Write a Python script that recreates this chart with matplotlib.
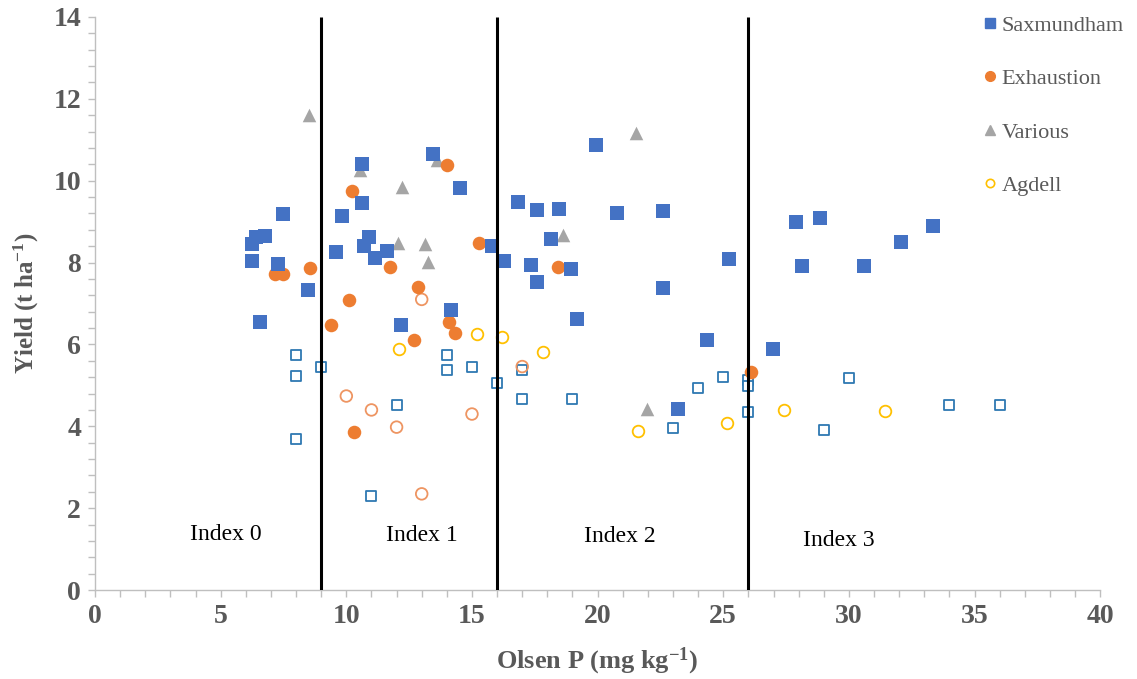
import matplotlib
matplotlib.use("Agg")
import matplotlib.pyplot as plt
from matplotlib.ticker import MultipleLocator
from matplotlib.lines import Line2D

plt.rcParams['font.family'] = ['Liberation Serif', 'DejaVu Serif']
plt.rcParams['mathtext.default'] = 'regular'

# Saxmundham (filled squares)
sax_x = [6.25, 6.4, 6.77, 6.25, 7.48, 7.28, 6.57, 8.48, 9.59, 9.83, 10.63, 10.63, 10.7, 10.9,
         11.15, 11.62, 12.18, 13.45, 14.53, 14.17, 15.8, 16.28, 16.84, 17.59, 17.35, 17.59,
         18.15, 18.47, 18.95, 19.18, 19.94, 20.78, 22.6, 22.6, 23.19, 24.37, 25.22, 26.98,
         27.91, 28.86, 28.12, 30.62, 32.07, 33.33]
sax_y = [8.45, 8.62, 8.65, 8.04, 9.19, 7.96, 6.55, 7.33, 8.26, 9.14, 10.41, 9.45, 8.40, 8.62,
         8.11, 8.28, 6.47, 10.65, 9.82, 6.84, 8.40, 8.04, 9.48, 9.28, 7.94, 7.52,
         8.58, 9.31, 7.85, 6.63, 10.87, 9.22, 9.25, 7.37, 4.42, 6.12, 8.09, 5.89,
         8.99, 9.08, 7.91, 7.91, 8.51, 8.90]

# Saxmundham (open squares)
sax_open_x = [8, 8, 9, 8, 14, 14, 15, 16, 12, 11, 17, 17, 19, 23, 24, 25, 26, 26, 26, 30, 29, 34, 36]
sax_open_y = [5.74, 5.23, 5.45, 3.69, 5.74, 5.38, 5.45, 5.07, 4.52, 2.29, 5.37, 4.67, 4.67,
              3.95, 4.93, 5.20, 5.13, 4.98, 4.36, 5.19, 3.92, 4.51, 4.51]

# Exhaustion (filled circles)
exh_x = [14.01, 10.23, 15.26, 11.73, 8.56, 7.16, 7.47, 12.87, 10.12, 9.39, 14.10, 14.33,
         12.71, 10.32, 18.42, 26.1]
exh_y = [10.39, 9.76, 8.47, 7.90, 7.87, 7.71, 7.71, 7.40, 7.08, 6.47, 6.56, 6.28,
         6.12, 3.85, 7.90, 5.33]

# Exhaustion (open circles)
exh_open_x = [10, 11, 12, 15, 13, 13, 17]
exh_open_y = [4.74, 4.40, 3.98, 4.30, 2.35, 7.10, 5.46]

# Various (triangles)
var_x = [8.5, 10.53, 13.62, 12.23, 12.05, 13.13, 13.24, 21.53, 18.64, 21.96]
var_y = [11.6, 10.26, 10.51, 9.84, 8.47, 8.45, 8.02, 11.17, 8.67, 4.42]

# Agdell (open circles)
agd_x = [12.09, 15.19, 16.21, 17.84, 21.6, 25.15, 27.43, 31.44]
agd_y = [5.89, 6.25, 6.18, 5.82, 3.88, 4.07, 4.40, 4.37]

index_bounds = [9, 16, 26]
index_labels = ['Index 0', 'Index 1', 'Index 2', 'Index 3']
index_label_x = [5.2, 13.0, 20.9, 29.6]
index_label_y = [1.35, 1.33, 1.3, 1.2]

c_sax = '#4472C4'
c_sax_open = '#2E78B2'
c_exh = '#ED7D31'
c_exh_open = '#EE9562'
c_var = '#A5A5A5'
c_agd = '#FFC000'
grey = '#595959'

fig = plt.figure(figsize=(11.37, 6.79), dpi=100)
ax = fig.add_axes([0.0836, 0.131, 0.884, 0.844])

ax.scatter(sax_open_x, sax_open_y, marker='s', s=62, facecolors='white',
           edgecolors=c_sax_open, linewidths=1.3, zorder=3)
ax.scatter(exh_open_x, exh_open_y, marker='o', s=70, facecolors='none',
           edgecolors=c_exh_open, linewidths=1.3, zorder=3)
ax.scatter(agd_x, agd_y, marker='o', s=70, facecolors='white',
           edgecolors=c_agd, linewidths=1.3, zorder=3)
ax.scatter(var_x, var_y, marker='^', s=95, color=c_var, linewidths=0, zorder=4)
ax.scatter(exh_x, exh_y, marker='o', s=95, color=c_exh, linewidths=0, zorder=4)
ax.scatter(sax_x, sax_y, marker='s', s=95, color=c_sax, linewidths=0, zorder=5)

ax.vlines(index_bounds, 0, 14, colors='black', linewidth=2.2, zorder=6)

for lx, ly, lab in zip(index_label_x, index_label_y, index_labels):
    ax.text(lx, ly, lab, ha='center', va='center', fontsize=17, color='black')

ax.set_xlim(0, 40)
ax.set_ylim(0, 14)
ax.xaxis.set_major_locator(MultipleLocator(5))
ax.xaxis.set_minor_locator(MultipleLocator(1))
ax.yaxis.set_major_locator(MultipleLocator(2))
ax.yaxis.set_minor_locator(MultipleLocator(0.4))

for side in ['top', 'right']:
    ax.spines[side].set_visible(False)
for side in ['left', 'bottom']:
    ax.spines[side].set_color('#BFBFBF')
    ax.spines[side].set_linewidth(1.0)

ax.tick_params(which='both', color='#BFBFBF', direction='out', length=5, width=1.0)
ax.tick_params(axis='both', which='major', labelsize=20, labelcolor=grey, pad=5)
for lab in ax.get_xticklabels() + ax.get_yticklabels():
    lab.set_fontweight('bold')

ax.set_xlabel('Olsen P (mg kg$^{-1}$)', fontsize=19, fontweight='bold', color=grey, labelpad=12)
ax.set_ylabel('Yield (t ha$^{-1}$)', fontsize=18, fontweight='bold', color=grey, labelpad=9)

handles = [
    Line2D([], [], linestyle='none', marker='s', markersize=7, color=c_sax),
    Line2D([], [], linestyle='none', marker='o', markersize=7, color=c_exh),
    Line2D([], [], linestyle='none', marker='^', markersize=7, color=c_var),
    Line2D([], [], linestyle='none', marker='o', markersize=6, markerfacecolor='white',
           markeredgecolor=c_agd, markeredgewidth=1.2),
]
leg = fig.legend(handles, ['Saxmundham', 'Exhaustion', 'Various', 'Agdell'],
                 loc='upper left', bbox_to_anchor=(0.844, 1.007), frameon=False,
                 prop={'family': 'Liberation Serif', 'size': 16},
                 labelspacing=1.48, handletextpad=0.1, handlelength=0.9)
for t in leg.get_texts():
    t.set_color(grey)

fig.savefig('out.png', dpi=100)
